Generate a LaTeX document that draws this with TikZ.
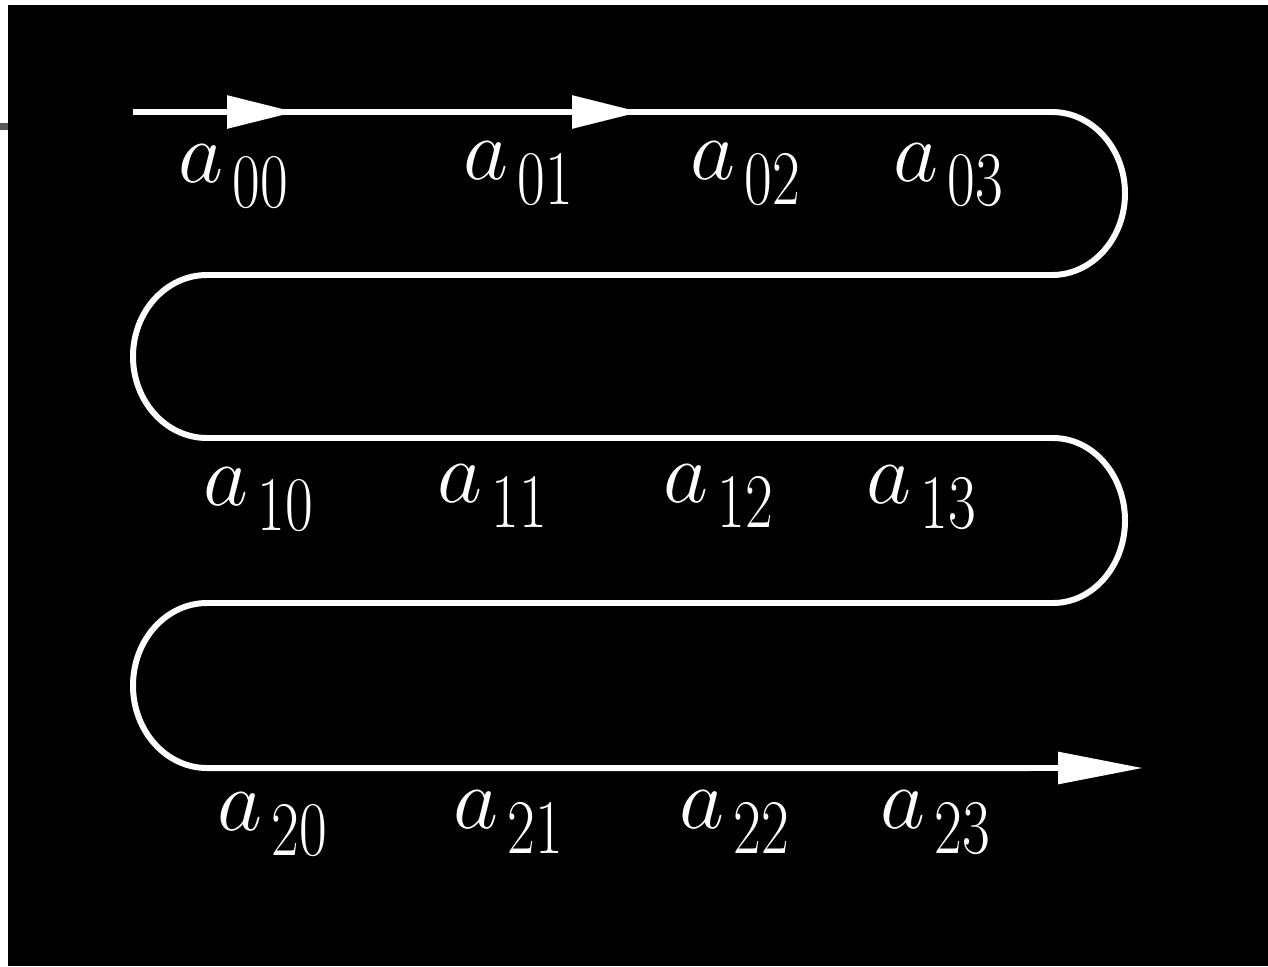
\documentclass[tikz,border=0pt]{standalone}
\usepackage{graphicx}
\usetikzlibrary{arrows.meta}
\newcommand{\elem}[1]{$a$\hspace{0.09cm}\raisebox{-0.25cm}{\scalebox{0.78}[1]{\fontsize{22}{26}\selectfont #1}}}
\tikzset{
  snake/.style={white, line width=1.7pt},
  lab/.style={white, inner sep=0pt, anchor=base west, font=\fontsize{26}{30}\selectfont},
  midtip/.style={-{Triangle[length=6.8mm,width=3.2mm]}},
  endtip/.style={-{Triangle[length=8.5mm,width=3.1mm]}}
}
\begin{document}
\begin{tikzpicture}
    \useasboundingbox (0,0) rectangle (12.68,9.66);
    % background
    \fill[white] (0,0) rectangle (12.68,9.66);
    \fill[black] (0.08,0) rectangle (12.68,9.61);
    \fill[black!65] (0,8.36) rectangle (0.08,8.43);
    % path ends
    \coordinate (start) at (1.33,8.54);
    \coordinate (stop) at (11.43,1.98);
    % snake path
    \draw[snake] (start) -- (10.52,8.54)
        arc[start angle=90, end angle=-90, x radius=0.73, y radius=0.815] -- (2.07,6.91)
        arc[start angle=90, end angle=270, x radius=0.74, y radius=0.815] -- (10.53,5.28)
        arc[start angle=90, end angle=-90, x radius=0.72, y radius=0.825] -- (2.07,3.63)
        arc[start angle=90, end angle=270, x radius=0.74, y radius=0.825] -- (10.3,1.98);
    % arrow heads
    \draw[snake, midtip] (2.2,8.54) -- (2.95,8.54);
    \draw[snake, midtip] (5.6,8.54) -- (6.40,8.54);
    \draw[snake, endtip] (10.3,1.98) -- (stop);
    % first row
    \node[lab] (a00) at (1.78,7.84) {\elem{00}};
    \node[lab] (a01) at (4.63,7.87) {\elem{01}};
    \node[lab] (a02) at (6.90,7.87) {\elem{02}};
    \node[lab] (a03) at (8.93,7.85) {\elem{03}};
    % second row
    \node[lab] (a10) at (2.03,4.61) {\elem{10}};
    \node[lab] (a11) at (4.37,4.64) {\elem{11}};
    \node[lab] (a12) at (6.63,4.64) {\elem{12}};
    \node[lab] (a13) at (8.66,4.63) {\elem{13}};
    % third row
    \node[lab] (a20) at (2.17,1.36) {\elem{20}};
    \node[lab] (a21) at (4.53,1.38) {\elem{21}};
    \node[lab] (a22) at (6.79,1.38) {\elem{22}};
    \node[lab] (a23) at (8.80,1.38) {\elem{23}};
\end{tikzpicture}
\end{document}
